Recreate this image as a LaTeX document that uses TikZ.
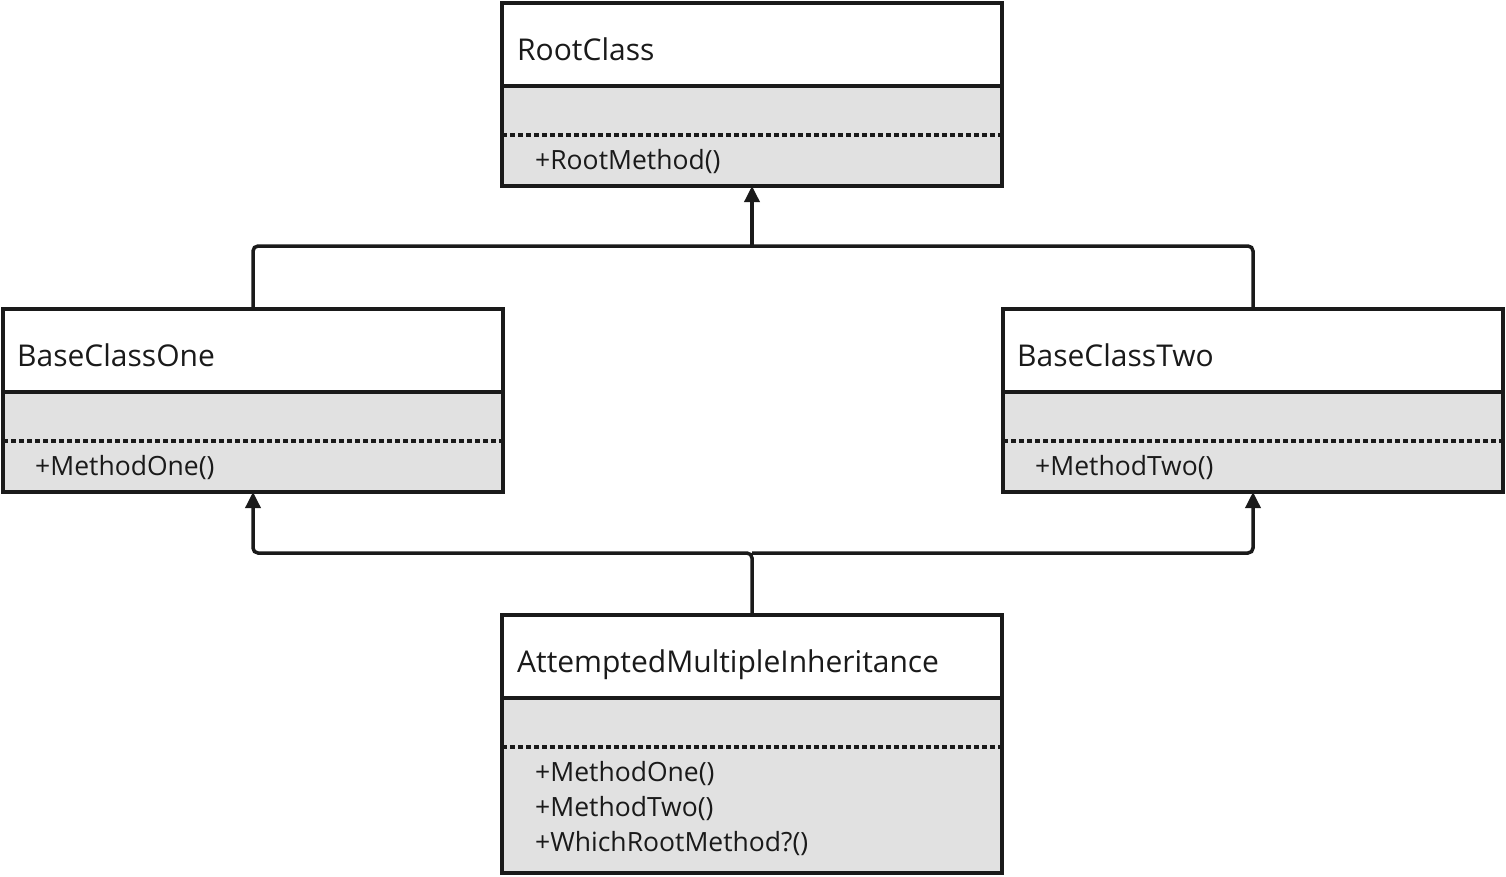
\documentclass[tikz,border=0pt]{standalone}
\usepackage{fontspec}
\setmainfont{Open Sans}
\usetikzlibrary{arrows.meta}
\definecolor{bodygray}{HTML}{E1E1E1}
\definecolor{ink}{HTML}{1A1A1A}
\tikzset{
  head/.style={draw=ink, line width=3.5pt, fill=white, minimum width=500pt, minimum height=83pt, anchor=north west, inner sep=0pt, outer sep=0pt},
  body/.style={draw=ink, line width=3.5pt, fill=bodygray, minimum width=500pt, anchor=north west, inner sep=0pt, outer sep=0pt},
  title/.style={anchor=base west, inner sep=0pt, font=\fontsize{30}{36}\selectfont, text=ink},
  meth/.style={anchor=base west, inner sep=0pt, font=\fontsize{26.5}{35}\selectfont, text=ink},
  sep/.style={draw=ink, line width=3.5pt, dash pattern=on 4.5pt off 3.5pt},
  conn/.style={draw=ink, line width=3.5pt, rounded corners=5pt},
  inh/.style={conn, -{Triangle[length=16pt,width=15pt]}},
}
\begin{document}
\begin{tikzpicture}[x=1pt,y=-1pt]
\useasboundingbox (0,0) rectangle (1506,876);
% RootClass
\node[head] (rootH) at (502,3) {};
\node[body, minimum height=100pt] (rootB) at (rootH.south west) {};
\draw[sep] (rootB.west |- 0,135) -- (rootB.east |- 0,135);
\node[title] (rootT) at (517,60) {RootClass};
\node[meth] (rootM) at (535,169) {+RootMethod()};
% BaseClassOne
\node[head] (oneH) at (3,309) {};
\node[body, minimum height=100pt] (oneB) at (oneH.south west) {};
\draw[sep] (oneB.west |- 0,441) -- (oneB.east |- 0,441);
\node[title] (oneT) at (17,366) {BaseClassOne};
\node[meth] (oneM) at (35,475) {+MethodOne()};
% BaseClassTwo
\node[head] (twoH) at (1003,309) {};
\node[body, minimum height=100pt] (twoB) at (twoH.south west) {};
\draw[sep] (twoB.west |- 0,441) -- (twoB.east |- 0,441);
\node[title] (twoT) at (1017,366) {BaseClassTwo};
\node[meth] (twoM) at (1035,475) {+MethodTwo()};
% AttemptedMultipleInheritance
\node[head] (amiH) at (502,615) {};
\node[body, minimum height=175pt] (amiB) at (amiH.south west) {};
\draw[sep] (amiB.west |- 0,747) -- (amiB.east |- 0,747);
\node[title] (amiT) at (517,672) {AttemptedMultipleInheritance};
\node[meth] (amiM1) at (535,781) {+MethodOne()};
\node[meth] (amiM2) at (535,816) {+MethodTwo()};
\node[meth] (amiM3) at (535,851) {+WhichRootMethod?()};
% redraw outlines on top
\foreach \n in {root,one,two,ami}{
  \draw[ink, line width=3.5pt] (\n H.north west) rectangle (\n B.south east);
}
% connectors
\coordinate (topJ) at (752,246);
\coordinate (botJ) at (752,553);
\draw[conn] (oneH.north) |- (topJ) -| (twoH.north);
\draw[inh] (topJ) -- (rootB.south);
\draw[inh] (amiH.north) |- (oneB.south |- botJ) -- (oneB.south);
\draw[inh] (botJ) -| (twoB.south);
\end{tikzpicture}
\end{document}
